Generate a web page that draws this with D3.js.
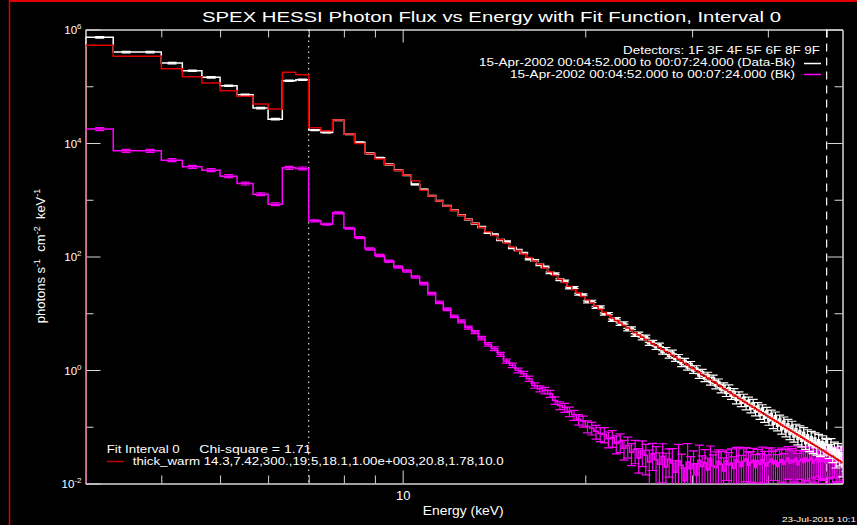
<!DOCTYPE html>
<html>
<head>
<meta charset="utf-8">
<script src="https://cdn.jsdelivr.net/npm/d3@7"></script>
<style>
  html, body { margin: 0; padding: 0; background: #000; }
  svg { display: block; }
  text { font-family: "Liberation Sans", "DejaVu Sans", sans-serif; fill: #fff; }
</style>
</head>
<body>
<svg id="chart" width="857" height="525"></svg>
<script>
"use strict";

// --- data (energy bins in keV, fluxes as log10 of photons s-1 cm-2 keV-1) ---

const binEdgesKeV = [
  3, 3.333, 3.667, 4, 4.333, 4.667, 5, 5.333, 5.667, 6, 6.333, 6.667, 7, 7.333, 7.667,
  8, 8.333, 8.667, 9, 9.333, 9.667, 10, 10.333, 10.667, 11, 11.333, 11.667, 12, 12.333, 12.667,
  13, 13.333, 13.667, 14, 14.333, 14.667, 15, 15.333, 15.667, 16, 16.333, 16.667, 17, 17.333, 17.667,
  18, 18.333, 18.667, 19, 19.333, 19.667, 20, 20.333, 20.667, 21, 21.333, 21.667, 22, 22.333, 22.667,
  23, 23.333, 23.667, 24, 24.333, 24.667, 25, 25.333, 25.667, 26, 26.333, 26.667, 27, 27.333, 27.667,
  28, 28.333, 28.667, 29, 29.333, 29.667, 30, 30.333, 30.667, 31, 31.333, 31.667, 32, 32.333, 32.667,
  33, 33.333, 33.667, 34, 34.333, 34.667, 35, 35.333, 35.667, 36, 36.333, 36.667, 37, 37.333, 37.667,
  38, 38.333, 38.667, 39, 39.333, 39.667, 40, 40.333, 40.667, 41, 41.333, 41.667, 42, 42.333, 42.667,
  43, 43.333, 43.667, 44, 44.333, 44.667, 45, 45.333, 45.667, 46, 46.333, 46.667, 47, 47.333, 47.667,
  48, 48.333, 48.667, 49, 49.333, 49.667, 50, 50.333, 50.667, 51, 51.333, 51.667, 52, 52.333, 52.667,
  53, 53.333, 53.667, 54
]

// Data - Bk (white)
const dataLogFlux = [
  5.862, 5.603, 5.603, 5.409, 5.273, 5.157, 5.009, 4.850, 4.616, 4.420,
  5.097, 5.115, 4.227, 4.187, 4.404, 4.157, 4.010, 3.816, 3.739, 3.622,
  3.522, 3.434, 3.270, 3.181, 3.068, 2.980, 2.892, 2.816, 2.728, 2.652,
  2.581, 2.520, 2.418, 2.388, 2.290, 2.264, 2.149, 2.115, 2.063, 1.952,
  1.932, 1.853, 1.818, 1.712, 1.696, 1.591, 1.567, 1.446, 1.455, 1.335,
  1.326, 1.199, 1.211, 1.105, 1.111, 0.987, 0.994, 0.878, 0.903, 0.808,
  0.829, 0.711, 0.739, 0.617, 0.645, 0.556, 0.589, 0.462, 0.496, 0.391,
  0.445, 0.310, 0.366, 0.243, 0.319, 0.186, 0.240, 0.095, 0.171, 0.037,
  0.113, -0.020, 0.037, -0.105, -0.028, -0.159, -0.081, -0.222, -0.133, -0.284,
  -0.204, -0.354, -0.274, -0.414, -0.313, -0.462, -0.380, -0.539, -0.437, -0.585,
  -0.482, -0.638, -0.534, -0.689, -0.575, -0.741, -0.636, -0.800, -0.675, -0.849,
  -0.723, -0.898, -0.772, -0.955, -0.808, -0.991, -0.864, -1.048, -0.900, -1.093,
  -0.945, -1.137, -0.979, -1.181, -1.033, -1.224, -1.065, -1.256, -1.098, -1.298,
  -1.139, -1.329, -1.170, -1.360, -1.200, -1.380, -1.230, -1.400, -1.259, -1.369,
  -1.308, -1.327, -1.417, -1.316, -1.485, -1.383, -1.572, -1.410, -1.529, -1.457,
  -1.715, -1.493, -1.611
]

// fit model thick_warm (red)
const modelLogFlux = [
  5.721, 5.527, 5.527, 5.309, 5.167, 5.056, 4.921, 4.822, 4.686, 4.598,
  5.245, 5.203, 4.268, 4.215, 4.404, 4.157, 3.993, 3.816, 3.716, 3.622,
  3.522, 3.434, 3.333, 3.169, 3.068, 2.980, 2.892, 2.816, 2.728, 2.652,
  2.581, 2.510, 2.438, 2.368, 2.300, 2.234, 2.169, 2.105, 2.043, 1.982,
  1.922, 1.863, 1.798, 1.732, 1.666, 1.601, 1.537, 1.476, 1.415, 1.355,
  1.296, 1.239, 1.181, 1.125, 1.071, 1.017, 0.964, 0.918, 0.873, 0.828,
  0.784, 0.741, 0.699, 0.657, 0.615, 0.576, 0.539, 0.502, 0.466, 0.431,
  0.395, 0.360, 0.326, 0.293, 0.259, 0.226, 0.190, 0.155, 0.121, 0.087,
  0.053, 0.020, -0.013, -0.045, -0.078, -0.109, -0.141, -0.172, -0.203, -0.234,
  -0.264, -0.294, -0.324, -0.354, -0.383, -0.412, -0.440, -0.469, -0.497, -0.525,
  -0.552, -0.578, -0.604, -0.629, -0.655, -0.681, -0.706, -0.730, -0.755, -0.779,
  -0.803, -0.828, -0.852, -0.875, -0.898, -0.921, -0.944, -0.968, -0.990, -1.013,
  -1.035, -1.057, -1.079, -1.101, -1.123, -1.144, -1.165, -1.186, -1.208, -1.228,
  -1.249, -1.269, -1.290, -1.310, -1.330, -1.350, -1.370, -1.390, -1.409, -1.429,
  -1.448, -1.467, -1.487, -1.506, -1.525, -1.543, -1.562, -1.580, -1.599, -1.617,
  -1.635, -1.653, -1.671
]

// background Bk (magenta)
const bkLogFlux = [
  4.245, 3.862, 3.862, 3.698, 3.580, 3.522, 3.416, 3.287, 3.098, 2.922,
  3.562, 3.552, 2.628, 2.569, 2.769, 2.498, 2.334, 2.134, 2.017, 1.916,
  1.816, 1.745, 1.639, 1.523, 1.347, 1.193, 1.070, 0.946, 0.858, 0.747,
  0.669, 0.564, 0.452, 0.376, 0.276, 0.158, 0.082, -0.006, -0.065, -0.153,
  -0.271, -0.329, -0.359, -0.417, -0.536, -0.624, -0.66, -0.73, -0.79, -0.87,
  -0.90, -0.99, -1.02, -1.08, -1.12, -1.13, -1.21, -1.19, -1.29, -1.26,
  -1.38, -1.33, -1.45, -1.40, -1.55, -1.42, -1.50, -1.62, -1.47, -1.58,
  -1.66, -1.52, -1.71, -1.57, -1.64, -1.80, -1.60, -1.68, -1.95, -1.62,
  -1.74, -1.66, -1.85, -1.59, -1.70, -1.63, -1.76, -1.58, -1.69, -1.72,
  -1.61, -1.66, -1.78, -1.60, -1.67, -1.64, -1.73, -1.58, -1.62, -1.70,
  -1.61, -1.57, -1.68, -1.63, -1.59, -1.72, -1.60, -1.66, -1.58, -1.64,
  -1.69, -1.62, -1.57, -1.65, -1.60, -1.70, -1.63, -1.58, -1.66, -1.61,
  -1.55, -1.64, -1.59, -1.62, -1.56, -1.67, -1.60, -1.57, -1.63, -1.55,
  -1.61, -1.58, -1.54, -1.64, -1.59, -1.56, -1.62, -1.57, -1.60, -1.53,
  -1.63, -1.58, -1.61, -1.55, -1.64, -1.59, -1.56, -1.62, -1.58, -1.54,
  -1.61, -1.57, -1.60
]

// relative 1-sigma errors
const dataRelErr = [
  0.03, 0.03, 0.03, 0.03, 0.03, 0.03, 0.03, 0.03, 0.03, 0.03,
  0.03, 0.03, 0.02, 0.02, 0.02, 0.02, 0.02, 0.02, 0.02, 0.02,
  0.02, 0.02, 0.02, 0.02, 0.02, 0.02, 0.02, 0.02, 0.02, 0.02,
  0.02, 0.022, 0.022, 0.024, 0.024, 0.026, 0.026, 0.028, 0.028, 0.03,
  0.03, 0.032, 0.032, 0.034, 0.034, 0.036, 0.036, 0.038, 0.038, 0.04,
  0.04, 0.042, 0.042, 0.044, 0.044, 0.046, 0.046, 0.048, 0.048, 0.05,
  0.05, 0.05, 0.052, 0.054, 0.056, 0.058, 0.06, 0.062, 0.064, 0.066,
  0.068, 0.07, 0.072, 0.074, 0.076, 0.078, 0.08, 0.082, 0.084, 0.086,
  0.088, 0.09, 0.092, 0.094, 0.096, 0.098, 0.10, 0.10, 0.105, 0.105,
  0.11, 0.11, 0.115, 0.115, 0.12, 0.12, 0.125, 0.125, 0.13, 0.13,
  0.135, 0.135, 0.14, 0.14, 0.145, 0.145, 0.15, 0.15, 0.155, 0.155,
  0.16, 0.16, 0.165, 0.165, 0.17, 0.17, 0.175, 0.175, 0.18, 0.18,
  0.185, 0.185, 0.19, 0.19, 0.195, 0.195, 0.20, 0.20, 0.21, 0.21,
  0.22, 0.22, 0.23, 0.23, 0.24, 0.24, 0.25, 0.25, 0.26, 0.26,
  0.27, 0.27, 0.28, 0.28, 0.29, 0.29, 0.30, 0.30, 0.31, 0.31,
  0.32, 0.32, 0.33
]

const bkRelErr = [
  0.06, 0.06, 0.06, 0.06, 0.06, 0.06, 0.06, 0.06, 0.06, 0.06,
  0.06, 0.06, 0.04, 0.04, 0.04, 0.04, 0.04, 0.045, 0.045, 0.045,
  0.045, 0.05, 0.05, 0.05, 0.05, 0.055, 0.055, 0.055, 0.06, 0.06,
  0.06, 0.07, 0.07, 0.075, 0.08, 0.085, 0.09, 0.095, 0.10, 0.105,
  0.11, 0.12, 0.13, 0.14, 0.15, 0.16, 0.18, 0.19, 0.20, 0.21,
  0.22, 0.24, 0.25, 0.27, 0.28, 0.30, 0.31, 0.33, 0.35, 0.36,
  0.38, 0.40, 0.42, 0.44, 0.46, 0.48, 0.55, 0.62, 0.50, 0.70,
  0.58, 0.66, 0.75, 0.52, 0.80, 0.60, 0.95, 0.57, 0.68, 1.10,
  0.63, 0.72, 0.59, 0.85, 0.54, 0.69, 0.61, 0.74, 0.56, 0.90,
  0.60, 0.66, 0.71, 0.55, 0.64, 0.78, 0.58, 0.63, 0.82, 0.57,
  0.67, 0.60, 0.73, 0.55, 0.62, 0.70, 0.59, 0.54, 0.66, 0.61,
  0.57, 0.75, 0.58, 0.64, 0.55, 0.62, 0.69, 0.60, 0.54, 0.63,
  0.58, 0.70, 0.61, 0.56, 0.65, 0.59, 0.53, 0.62, 0.57, 0.60,
  0.55, 0.66, 0.58, 0.54, 0.61, 0.53, 0.59, 0.56, 0.52, 0.62,
  0.57, 0.54, 0.60, 0.55, 0.58, 0.51, 0.61, 0.56, 0.59, 0.53,
  0.62, 0.57, 0.55
]

const xDomainKeV = [3, 53.1]
const yDomainFlux = [1e-2, 1e6]
const xMajorTicks = [10]
const xMinorTicks = [4, 5, 6, 7, 8, 9, 20, 30, 40, 50]
const yMajorTicks = [1e-2, 1e0, 1e2, 1e4, 1e6]
const yMinorTicks = [1e-1, 1e1, 1e3, 1e5]
const fitRangeKeV = [7, 50]

const titleText = "SPEX HESSI Photon Flux vs Energy with Fit Function, Interval 0"
const legendLines = [
  "Detectors: 1F 3F 4F 5F 6F 8F 9F",
  "15-Apr-2002 00:04:52.000 to 00:07:24.000 (Data-Bk)",
  "15-Apr-2002 00:04:52.000 to 00:07:24.000 (Bk)"
]
const fitLabel = "Fit Interval 0"
const chiLabel = "Chi-square = 1.71"
const fitParams = "thick_warm 14.3,7.42,300.,19.5,18.1,1.00e+003,20.8,1.78,10.0"
const stampText = "23-Jul-2015 10:1"

// --- layout ---

const W = 857, H = 525
const plotL = 85.5, plotR = 842.5, plotT = 29.5, plotB = 483.5
const axisColor = "#d6d6d6"
const dataColor = "#ffffff"
const modelColor = "#e00000"
const bkColor = "#ff00ff"
const capHalf = 4.5
const floorFlux = 1e-3 // below the axis, gets clipped

const svg = d3.select("#chart")
svg.append("rect").attr("width", W).attr("height", H).attr("fill", "#000")

const x = d3.scaleLog().domain(xDomainKeV).range([plotL, plotR])
const y = d3.scaleLog().domain(yDomainFlux).range([plotB, plotT])

svg.append("clipPath").attr("id", "plotClip")
  .append("rect")
  .attr("x", plotL).attr("y", plotT)
  .attr("width", plotR - plotL).attr("height", plotB - plotT)

// window frame (red lines at top and left)
svg.append("line").attr("x1", 9).attr("x2", W).attr("y1", 1).attr("y2", 1)
  .attr("stroke", "#e00000").attr("stroke-width", 2)
svg.append("line").attr("x1", 9.5).attr("x2", 9.5).attr("y1", 0).attr("y2", H)
  .attr("stroke", "#e00000").attr("stroke-width", 1.5)

// --- axes ---

function drawAxis (axis, ty, tx) {
  const g = svg.append("g")
    .attr("transform", `translate(${tx || 0},${ty || 0})`)
    .call(axis)
  g.attr("font-family", null).attr("font-size", null)
  g.selectAll("path.domain").attr("stroke", axisColor)
  g.selectAll(".tick line").attr("stroke", axisColor)
  return g
}

drawAxis(d3.axisBottom(x).tickValues(xMinorTicks).tickSizeInner(-8).tickSizeOuter(0).tickFormat(""), plotB)
const xMajor = drawAxis(d3.axisBottom(x).tickValues(xMajorTicks).tickSizeInner(-13).tickSizeOuter(0)
  .tickPadding(7).tickFormat(d3.format("d")), plotB)
xMajor.selectAll(".tick text").attr("fill", "#fff").attr("font-size", 13)

drawAxis(d3.axisTop(x).tickValues(xMinorTicks).tickSizeInner(-8).tickSizeOuter(0).tickFormat(""), plotT)
drawAxis(d3.axisTop(x).tickValues(xMajorTicks).tickSizeInner(-13).tickSizeOuter(0).tickFormat(""), plotT)

drawAxis(d3.axisLeft(y).tickValues(yMinorTicks).tickSizeInner(-8).tickSizeOuter(0).tickFormat(""), 0, plotL)
const yLeft = drawAxis(d3.axisLeft(y).tickValues(yMajorTicks).tickSizeInner(-15).tickSizeOuter(0).tickFormat(""), 0, plotL)
drawAxis(d3.axisRight(y).tickValues(yMinorTicks).tickSizeInner(-8).tickSizeOuter(0).tickFormat(""), 0, plotR)
drawAxis(d3.axisRight(y).tickValues(yMajorTicks).tickSizeInner(-15).tickSizeOuter(0).tickFormat(""), 0, plotR)

// y labels as 10^n
yLeft.selectAll(".tick text").remove()
yLeft.selectAll(".tick").each(function (d) {
  const t = d3.select(this).append("text")
    .attr("x", -4).attr("y", 4)
    .attr("text-anchor", "end")
    .attr("font-size", 11.5)
  t.append("tspan").text("10")
  t.append("tspan").attr("dy", -5).attr("font-size", 8).text(String(Math.round(Math.log10(d))))
})

// --- fit range markers ---

svg.append("line")
  .attr("x1", x(fitRangeKeV[0])).attr("x2", x(fitRangeKeV[0]))
  .attr("y1", plotT).attr("y2", plotB)
  .attr("stroke", "#fff").attr("stroke-width", 1).attr("stroke-dasharray", "1.5,4")
svg.append("line")
  .attr("x1", x(fitRangeKeV[1])).attr("x2", x(fitRangeKeV[1]))
  .attr("y1", plotT).attr("y2", plotB)
  .attr("stroke", "#fff").attr("stroke-width", 1.2).attr("stroke-dasharray", "8,6")

// --- series ---

const plot = svg.append("g").attr("clip-path", "url(#plotClip)")

function stepPoints (logs) {
  const pts = [[binEdgesKeV[0], floorFlux]]
  logs.forEach((v, i) => {
    const f = Math.pow(10, v)
    pts.push([binEdgesKeV[i], f], [binEdgesKeV[i + 1], f])
  })
  pts.push([binEdgesKeV[logs.length], floorFlux])
  return pts
}

const stepLine = d3.line().x(d => x(d[0])).y(d => y(d[1]))

function errorRows (logs, rel) {
  return logs.map((v, i) => {
    const f = Math.pow(10, v)
    const lo = f * (1 - rel[i])
    return {
      xc: x((binEdgesKeV[i] + binEdgesKeV[i + 1]) / 2),
      hi: y(f * (1 + rel[i])),
      lo: y(lo > 0 ? lo : floorFlux)
    }
  })
}

function drawSeries (logs, rel, color) {
  const g = plot.append("g")
  g.append("path")
    .attr("d", stepLine(stepPoints(logs)))
    .attr("fill", "none").attr("stroke", color).attr("stroke-width", 1.5)
  if (!rel) return
  const rows = errorRows(logs, rel)
  const eb = g.selectAll("g.err").data(rows).join("g").attr("class", "err")
    .attr("stroke", color).attr("stroke-width", 1.2)
  eb.append("line").attr("x1", d => d.xc).attr("x2", d => d.xc).attr("y1", d => d.lo).attr("y2", d => d.hi)
  eb.append("line").attr("x1", d => d.xc - capHalf).attr("x2", d => d.xc + capHalf).attr("y1", d => d.hi).attr("y2", d => d.hi)
  eb.append("line").attr("x1", d => d.xc - capHalf).attr("x2", d => d.xc + capHalf).attr("y1", d => d.lo).attr("y2", d => d.lo)
}

drawSeries(bkLogFlux, bkRelErr, bkColor)
drawSeries(dataLogFlux, dataRelErr, dataColor)
drawSeries(modelLogFlux, null, modelColor)

// --- texts ---

svg.append("text")
  .attr("x", 202).attr("y", 22)
  .attr("font-size", 15)
  .attr("textLength", 579).attr("lengthAdjust", "spacingAndGlyphs")
  .text(titleText)

const legendRight = [820, 795, 795]
const legendBase = [54, 66, 77.5]
const legendWidth = [197, 316, 285]
legendLines.forEach((s, i) => {
  svg.append("text")
    .attr("x", legendRight[i]).attr("y", legendBase[i])
    .attr("text-anchor", "end").attr("font-size", 11)
    .attr("textLength", legendWidth[i]).attr("lengthAdjust", "spacingAndGlyphs")
    .text(s)
})
svg.append("line").attr("x1", 804).attr("x2", 821).attr("y1", 63.5).attr("y2", 63.5)
  .attr("stroke", dataColor).attr("stroke-width", 1.5)
svg.append("line").attr("x1", 804).attr("x2", 821).attr("y1", 74.5).attr("y2", 74.5)
  .attr("stroke", bkColor).attr("stroke-width", 1.5)

svg.append("text").attr("x", 106.7).attr("y", 453).attr("font-size", 11)
  .attr("textLength", 73).attr("lengthAdjust", "spacingAndGlyphs").text(fitLabel)
svg.append("text").attr("x", 199.3).attr("y", 453).attr("font-size", 11)
  .attr("textLength", 112).attr("lengthAdjust", "spacingAndGlyphs").text(chiLabel)
svg.append("line").attr("x1", 107).attr("x2", 124).attr("y1", 461.5).attr("y2", 461.5)
  .attr("stroke", "#c80000").attr("stroke-width", 1.5)
svg.append("text").attr("x", 132.7).attr("y", 465).attr("font-size", 11)
  .attr("textLength", 371).attr("lengthAdjust", "spacingAndGlyphs").text(fitParams)

// axis titles
svg.append("text")
  .attr("x", 422.7).attr("y", 515)
  .attr("font-size", 13)
  .attr("textLength", 81).attr("lengthAdjust", "spacingAndGlyphs")
  .text("Energy (keV)")

const yTitle = svg.append("text")
  .attr("transform", "translate(45,256) rotate(-90)")
  .attr("text-anchor", "middle")
  .attr("font-size", 13)
yTitle.append("tspan").text("photons s")
yTitle.append("tspan").attr("dy", -5).attr("font-size", 9).text("-1")
yTitle.append("tspan").attr("dy", 5).text("  cm")
yTitle.append("tspan").attr("dy", -5).attr("font-size", 9).text("-2")
yTitle.append("tspan").attr("dy", 5).text("  keV")
yTitle.append("tspan").attr("dy", -5).attr("font-size", 9).text("-1")
yTitle.attr("style", "white-space: pre")

svg.append("text")
  .attr("x", 782).attr("y", 522)
  .attr("font-size", 8)
  .attr("textLength", 74).attr("lengthAdjust", "spacingAndGlyphs")
  .text(stampText)
</script>
</body>
</html>
